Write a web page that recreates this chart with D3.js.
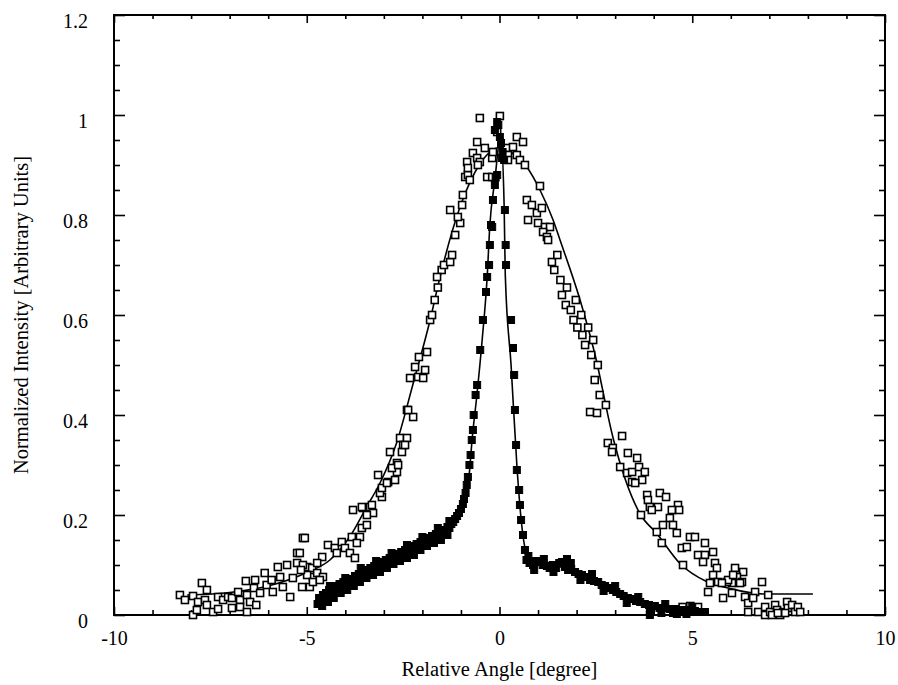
<!DOCTYPE html>
<html>
<head>
<meta charset="utf-8">
<script src="https://cdn.jsdelivr.net/npm/d3@7"></script>
<style>
  body { margin: 0; background: #fff; }
  svg text { font-family: "Liberation Serif", "DejaVu Serif", serif; fill: #000; }
</style>
</head>
<body>
<svg id="chart"></svg>
<script>
// axis ticks / labels
const xMajor = [-10, -5, 0, 5, 10];
const xMinor = [-9, -8, -7, -6, -4, -3, -2, -1, 1, 2, 3, 4, 6, 7, 8, 9];
const yMajor = [0, 0.2, 0.4, 0.6, 0.8, 1, 1.2];
const yMinor = [0.05, 0.1, 0.15, 0.25, 0.3, 0.35, 0.45, 0.5, 0.55, 0.65, 0.7, 0.75, 0.85, 0.9, 0.95, 1.05, 1.1, 1.15];
const xTitle = "Relative Angle [degree]";
const yTitle = "Normalized Intensity [Arbitrary Units]";

// open squares (broad peak), [angle, intensity]
const openPts = [
  [-8.29,0.04],[-8.16,0.03],[-7.95,0.038],[-7.82,0.026],[-7.95,0.0],[-7.85,0.01],[-7.72,0.064],[-7.59,0.05],
  [-7.64,0.03],[-7.59,0.02],[-7.43,0.006],[-7.30,0.036],[-7.30,0.012],[-7.17,0.03],[-7.04,0.036],[-6.94,0.034],
  [-6.94,0.014],[-6.78,0.046],[-6.73,0.03],[-6.73,0.016],[-6.55,0.04],[-6.47,0.026],[-6.55,0.006],[-6.34,0.07],
  [-6.58,0.068],[-6.37,0.054],[-6.31,0.02],[-6.21,0.044],[-6.09,0.084],[-6.04,0.06],[-5.91,0.07],[-5.88,0.046],
  [-5.75,0.096],[-5.69,0.076],[-5.62,0.056],[-5.51,0.1],[-5.43,0.036],[-5.36,0.074],[-5.25,0.104],[-5.25,0.124],
  [-5.10,0.154],[-5.12,0.056],[-4.99,0.096],[-4.92,0.056],[-4.84,0.076],[-5.05,0.154],[-5.18,0.124],[-5.10,0.1],
  [-4.86,0.094],[-4.99,0.08],[-4.73,0.084],[-4.84,0.066],[-4.58,0.076],[-4.45,0.14],[-4.27,0.134],[-4.09,0.146],
  [-4.22,0.124],[-4.01,0.134],[-3.83,0.156],[-3.88,0.124],[-3.75,0.114],[-3.62,0.156],[-3.70,0.144],[-3.57,0.174],
  [-3.44,0.18],[-3.80,0.21],[-3.54,0.214],[-3.36,0.216],[-3.28,0.204],[-3.44,0.2],[-3.15,0.28],[-3.05,0.236],
  [-2.89,0.266],[-2.66,0.304],[-2.66,0.286],[-2.71,0.27],[-2.79,0.294],[-2.84,0.326],[-2.58,0.354],[-2.50,0.34],
  [-2.40,0.354],[-2.53,0.326],[-2.40,0.41],[-2.24,0.396],[-4.60,0.116],[-4.73,0.104],[-4.66,0.07],[-5.15,0.09],
  [-3.57,0.216],[-3.31,0.22],[-3.10,0.244],[-3.05,0.254],[-2.92,0.264],[-2.63,0.3],[-2.45,0.34],[-2.37,0.41],
  [-2.32,0.474],[-2.11,0.476],[-1.98,0.474],[-2.19,0.496],[-1.93,0.49],[-2.09,0.516],[-1.88,0.526],[-1.80,0.59],
  [-1.75,0.6],[-1.68,0.63],[-1.6,0.655],[-1.5,0.69],[-1.44,0.7],[-1.62,0.676],[-1.28,0.706],[-1.23,0.72],
  [-1.15,0.76],[-1.02,0.784],[-1.08,0.796],[-1.28,0.81],[-0.97,0.82],[-0.95,0.84],[-0.89,0.876],[-0.82,0.88],
  [-0.77,0.87],[-0.84,0.906],[-0.82,0.894],[-0.69,0.924],[-0.58,0.914],[-0.51,0.906],[-0.56,0.9],[-0.58,0.946],
  [-0.51,0.994],[-0.38,0.934],[-0.32,0.876],[-0.19,0.876],[-0.19,0.914],[-0.17,0.926],[-0.06,0.966],[0.01,0.998],
  [0.19,0.934],[0.35,0.936],[0.45,0.956],[0.61,0.946],[0.22,0.92],[0.45,0.92],[0.53,0.91],[0.66,0.9],
  [0.22,0.91],[1.05,0.858],[0.71,0.83],[0.84,0.82],[0.74,0.79],[0.97,0.804],[1.10,0.814],[1.00,0.784],
  [1.18,0.776],[1.31,0.776],[1.13,0.766],[1.23,0.756],[1.26,0.75],[1.36,0.706],
  [1.42,0.69],[1.5,0.72],[1.58,0.67],[1.62,0.64],[1.72,0.62],[1.75,0.655],[1.85,0.61],[1.92,0.59],
  [1.98,0.63],[2.02,0.575],[2.12,0.6],[2.15,0.56],[2.22,0.54],[2.3,0.575],[2.38,0.52],[2.43,0.55],
  [2.47,0.47],[2.55,0.5],[2.6,0.44],
  [2.35,0.406],[2.53,0.404],[2.76,0.42],[2.81,0.344],[2.94,0.334],[2.92,0.326],[3.18,0.358],[3.13,0.296],
  [3.33,0.324],[3.31,0.284],[3.44,0.286],[3.57,0.314],[3.62,0.296],[3.77,0.286],[3.70,0.27],[3.44,0.266],
  [3.52,0.264],[3.83,0.24],[3.85,0.23],[4.16,0.244],[4.32,0.236],[3.90,0.216],[4.11,0.216],[3.95,0.21],
  [3.67,0.2],[4.63,0.22],[4.66,0.21],[4.47,0.21],[4.42,0.194],[4.50,0.18],[4.24,0.18],[4.08,0.166],
  [4.60,0.164],[4.21,0.144],[4.94,0.156],[5.07,0.156],[5.33,0.144],[4.73,0.134],[4.86,0.136],[5.15,0.12],
  [5.33,0.12],[5.54,0.126],[5.28,0.106],[4.76,0.1],[5.59,0.104],[5.64,0.094],[5.54,0.08],[6.11,0.094],
  [6.32,0.086],[6.16,0.076],[6.29,0.066],[6.03,0.064],[6.81,0.066],[5.46,0.064],[5.67,0.066],[5.90,0.066],
  [5.41,0.046],[6.03,0.044],[5.80,0.034],[6.37,0.036],[6.45,0.024],[6.63,0.046],[6.58,0.034],[6.97,0.04],
  [5.93,0.07],[5.77,0.064],[6.24,0.064],[6.06,0.08],
  [6.45,0.006],[6.71,0.006],[6.89,0.016],[6.89,0.0],[7.02,0.006],[7.15,0.02],[7.2,0.01],[7.28,0.0],
  [7.07,0.0],[7.36,0.006],[7.46,0.026],[7.48,0.014],[7.59,0.02],[7.67,0.006],[7.74,0.016],[7.80,0.006],
  [7.41,0.004],[7.22,0.004],[4.75,0.016],[4.95,0.018],[5.15,0.016]
];

// filled squares (narrow peak)
const filledPts = [
  [-4.72,0.022],[-4.68,0.034],[-4.62,0.026],[-4.58,0.04],[-4.55,0.03],[-4.5,0.044],[-4.47,0.036],[-4.42,0.05],
  [-4.38,0.04],[-4.33,0.054],[-4.3,0.046],[-4.25,0.058],[-4.2,0.05],[-4.15,0.062],[-4.1,0.054],[-4.05,0.066],
  [-4.0,0.058],[-3.95,0.07],[-3.9,0.062],[-3.85,0.072],[-3.8,0.066],[-3.75,0.078],[-3.7,0.07],[-3.65,0.082],
  [-3.6,0.076],[-3.55,0.086],[-3.5,0.08],[-3.45,0.09],[-3.4,0.084],[-3.35,0.094],[-3.3,0.088],[-3.25,0.098],
  [-3.2,0.092],[-3.15,0.1],[-3.1,0.096],[-3.05,0.106],[-3.0,0.1],[-2.95,0.11],[-2.9,0.104],[-2.85,0.114],
  [-2.8,0.11],[-2.75,0.118],[-2.7,0.114],[-2.65,0.122],[-2.6,0.118],[-2.55,0.126],[-2.5,0.122],[-2.45,0.13],
  [-2.4,0.126],[-2.35,0.134],[-2.3,0.128],[-2.25,0.138],[-2.2,0.134],[-2.15,0.142],[-2.1,0.138],[-2.05,0.146],
  [-2.0,0.142],[-1.95,0.15],[-1.9,0.146],[-1.85,0.154],[-1.8,0.15],[-1.75,0.158],[-1.7,0.156],[-1.65,0.162],
  [-1.6,0.16],[-1.55,0.166],[-1.5,0.164],[-1.45,0.17],[-1.4,0.168],[-1.35,0.176],[-1.3,0.174],[-1.25,0.182],
  [-1.2,0.186],[-1.15,0.192],[-1.1,0.198],[-1.05,0.204],[-1.0,0.212],[-0.95,0.222],[-0.92,0.232],[-0.88,0.244],
  [-4.6,0.018],[-4.45,0.026],[-4.3,0.034],[-4.12,0.044],[-3.95,0.05],[-3.78,0.058],[-3.62,0.066],[-3.45,0.074],
  [-3.28,0.08],[-3.1,0.086],[-2.92,0.094],[-2.75,0.102],[-2.58,0.108],[-2.4,0.114],[-2.22,0.12],[-2.05,0.13],
  [-1.88,0.138],[-1.7,0.144],[-1.52,0.15],[-1.35,0.16],
  [-4.4,0.058],[-4.0,0.074],[-3.6,0.094],[-3.2,0.108],[-2.8,0.124],[-2.4,0.14],[-2.0,0.156],[-1.6,0.174],
  [-1.3,0.188],
  [-0.85,0.26],[-0.82,0.276],[-0.78,0.3],[-0.75,0.32],[-0.72,0.35],[-0.69,0.37],[-0.67,0.4],[-0.62,0.44],
  [-0.58,0.46],[-0.5,0.53],[-0.43,0.59],[-0.35,0.646],[-0.32,0.676],[-0.27,0.7],[-0.25,0.74],[-0.22,0.78],
  [-0.19,0.776],[-0.17,0.83],[-0.12,0.86],[-0.1,0.875],[-0.06,0.88],[-0.12,0.97],[-0.06,0.986],[-0.03,0.98],
  [0.01,0.956],[0.04,0.944],[0.08,0.926],[0.06,0.914],[0.12,0.91],[0.14,0.81],[0.16,0.74],[0.17,0.7],
  [0.3,0.59],[0.35,0.534],[0.38,0.48],[0.40,0.41],[0.43,0.34],[0.45,0.29],[0.51,0.25],[0.53,0.22],
  [0.56,0.19],[0.61,0.16],[0.66,0.13],[0.7,0.11],[0.78,0.104],[0.87,0.1],[0.95,0.108],[1.05,0.106],
  [1.12,0.1],[1.23,0.098],[1.3,0.094],[1.38,0.1],[1.47,0.094],[1.55,0.104],[1.62,0.106],[1.7,0.096],
  [1.78,0.09],[1.86,0.092],[1.96,0.086],[2.05,0.082],[2.14,0.08],[2.22,0.076],[2.3,0.076],[2.35,0.07],
  [2.45,0.068],[2.56,0.066],[2.65,0.06],[2.74,0.058],[2.82,0.054],[2.94,0.05],[3.03,0.046],[3.13,0.042],
  [3.22,0.038],[3.33,0.034],[3.42,0.032],[3.54,0.028],[3.65,0.026],[3.77,0.022],[3.88,0.02],[4.03,0.018],
  [4.15,0.014],[4.29,0.014],[4.42,0.012],[4.55,0.012],[4.68,0.01],[4.81,0.01],[4.95,0.008],[5.07,0.008],
  [5.2,0.006],[5.33,0.006],[3.9,0.0],[4.2,0.004],[4.5,0.004],[4.85,0.002],
  [0.75,0.118],[0.9,0.09],[1.15,0.112],[1.4,0.086],[1.75,0.112],[1.85,0.104],[2.1,0.07],[2.4,0.082],
  [2.7,0.048],[3.0,0.058],[3.3,0.024],[3.6,0.036],[3.9,0.01],[4.3,0.022],[4.6,0.002],[5.0,0.016]
];

// fitted curves
const broadFit = [
  [-8.1,0.04],[-7,0.045],[-6,0.058],[-5,0.085],[-4.4,0.11],[-3.88,0.157],[-3.44,0.217],[-3.1,0.264],
  [-2.67,0.344],[-2.24,0.463],[-1.8,0.59],[-1.54,0.677],[-1.02,0.817],[-0.5,0.903],[0,0.935],[0.27,0.927],
  [0.7,0.897],[1.05,0.85],[1.39,0.79],[1.57,0.75],[2.09,0.63],[2.48,0.52],[2.94,0.356],[3.64,0.203],
  [4.08,0.163],[4.68,0.103],[5.37,0.067],[5.98,0.053],[6.84,0.042],[8.13,0.042]
];
const narrowFit = [
  [-4.7,0.03],[-4.3,0.05],[-3.9,0.066],[-3.4,0.088],[-3.0,0.104],[-2.6,0.122],[-2.1,0.138],[-1.7,0.158],
  [-1.35,0.175],[-1.1,0.198],[-0.9,0.23],[-0.8,0.27],[-0.7,0.36],[-0.6,0.43],[-0.45,0.55],[-0.32,0.676],
  [-0.25,0.78],[-0.12,0.87],[0.03,0.96],[0.12,0.82],[0.15,0.68],[0.3,0.5],[0.45,0.3],[0.55,0.2],
  [0.7,0.125],[1.0,0.105],[1.5,0.098],[2.0,0.085],[2.5,0.067],[3.0,0.047],[3.5,0.03],[4.0,0.018],
  [4.5,0.012],[5.3,0.006]
];

const width = 898, height = 685;
const margins = { top: 15, bottom: 70, left: 114, right: 13 };

const svg = d3.select('#chart')
              .attr('width', width)
              .attr('height', height);

const x = d3.scaleLinear()
            .domain([-10, 10])
            .range([margins.left, width - margins.right]);
const y = d3.scaleLinear()
            .domain([0, 1.2])
            .range([height - margins.bottom, margins.top]);

const plotW = width - margins.left - margins.right;
const plotH = height - margins.top - margins.bottom;

// ticks on all four sides, pointing in
function drawAxis(axisFn, vals, size, tx, ty, labels) {
  const ax = axisFn.tickValues(vals).tickSizeInner(-size).tickSizeOuter(0);
  if (!labels) ax.tickFormat('');
  const g = svg.append('g')
               .attr('transform', `translate(${tx},${ty})`)
               .call(ax);
  g.select('.domain').remove();
  g.selectAll('line').attr('stroke', '#000').attr('stroke-width', 1.6);
  return g;
}

const bottom = height - margins.bottom, right = width - margins.right;

// plain hyphen for negatives, like the original print
const gx = drawAxis(d3.axisBottom(x).tickPadding(16).tickFormat(d => String(d)), xMajor, 8, 0, bottom, true);
gx.selectAll('text').attr('font-size', 20);
drawAxis(d3.axisBottom(x), xMinor, 5, 0, bottom, false);
drawAxis(d3.axisTop(x), xMajor, 8, 0, margins.top, false);
drawAxis(d3.axisTop(x), xMinor, 4, 0, margins.top, false);

const gy = drawAxis(d3.axisLeft(y).tickPadding(26).tickFormat(d => String(+d.toFixed(1))), yMajor, 11, margins.left, 0, true);
gy.selectAll('text').attr('font-size', 20).attr('y', 6);
drawAxis(d3.axisLeft(y), yMinor, 6, margins.left, 0, false);
drawAxis(d3.axisRight(y), yMajor, 11, right, 0, false);
drawAxis(d3.axisRight(y), yMinor, 6, right, 0, false);

// frame
svg.append('rect')
   .attr('x', margins.left)
   .attr('y', margins.top)
   .attr('width', plotW)
   .attr('height', plotH)
   .attr('fill', 'none')
   .attr('stroke', '#000')
   .attr('stroke-width', 2);

// fit lines
const line = d3.line()
               .curve(d3.curveMonotoneX)
               .x(d => x(d[0]))
               .y(d => y(d[1]));

svg.append('path')
   .datum(broadFit)
   .attr('fill', 'none')
   .attr('stroke', '#000')
   .attr('stroke-width', 1.6)
   .attr('d', line);

svg.append('path')
   .datum(narrowFit)
   .attr('fill', 'none')
   .attr('stroke', '#000')
   .attr('stroke-width', 1.6)
   .attr('d', line);

const s = 7;
svg.append('g')
   .selectAll('rect')
   .data(openPts)
   .join('rect')
   .attr('x', d => x(d[0]) - s / 2)
   .attr('y', d => y(d[1]) - s / 2)
   .attr('width', s)
   .attr('height', s)
   .attr('fill', '#fff')
   .attr('stroke', '#000')
   .attr('stroke-width', 1.6);

svg.append('g')
   .selectAll('rect')
   .data(filledPts)
   .join('rect')
   .attr('x', d => x(d[0]) - s / 2)
   .attr('y', d => y(d[1]) - s / 2)
   .attr('width', s)
   .attr('height', s)
   .attr('fill', '#000')
   .attr('stroke', '#000')
   .attr('stroke-width', 1);

// axis titles
svg.append('text')
   .attr('x', x(0))
   .attr('y', 676)
   .attr('text-anchor', 'middle')
   .attr('font-size', 20.5)
   .text(xTitle);

svg.append('text')
   .attr('transform', `translate(28,${y(0.6)}) rotate(-90)`)
   .attr('text-anchor', 'middle')
   .attr('font-size', 20.5)
   .text(yTitle);
</script>
</body>
</html>
